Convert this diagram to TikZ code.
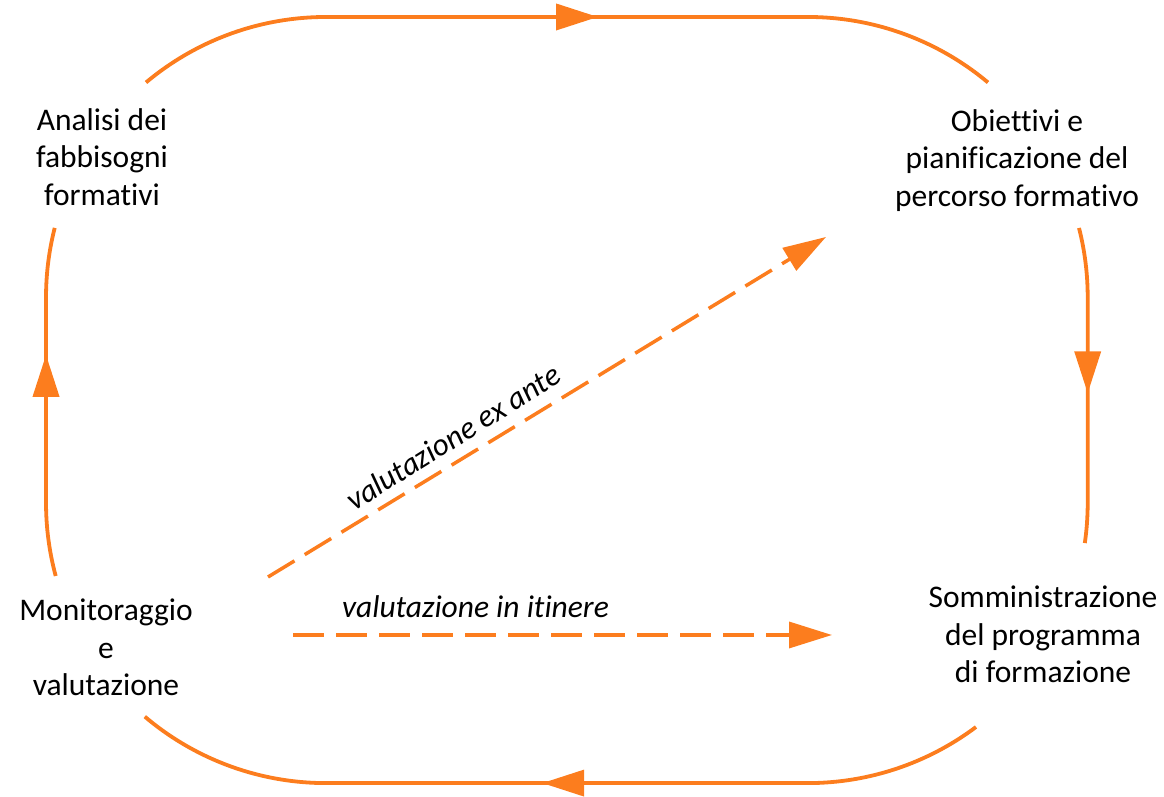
\documentclass[tikz,border=0pt]{standalone}
\usepackage{fontspec}
\setmainfont{Carlito}[Ligatures=NoCommon]
\usetikzlibrary{arrows.meta,decorations.markings}
\definecolor{cycleorange}{RGB}{252,125,30}
\tikzset{
  phase/.style={align=center, inner sep=0pt, font=\fontsize{31.5}{37.5}\selectfont},
  evallabel/.style={inner sep=0pt, font=\fontsize{31.5}{37.5}\selectfont\itshape},
  cycleline/.style={draw=cycleorange, line width=3.8pt},
  evalarrow/.style={draw=cycleorange, line width=3.5pt, dash pattern=on 31pt off 12pt,
    -{Triangle[length=43pt,width=26pt]}},
  tipat/.style={postaction={decorate}, decoration={markings,
    mark=at position #1 with {\arrow{Triangle[length=42pt,width=26pt]}}}}
}
\begin{document}
\begin{tikzpicture}[x=1pt,y=1pt]
\useasboundingbox (0,0) rectangle (1164,797);

% the four phases of the cycle
\node[phase] (analisi) at (102,640) {Analisi dei\\fabbisogni\\formativi};
\node[phase] (obiettivi) at (1017,636.5) {Obiettivi e\\pianificazione del\\percorso formativo};
\node[phase] (somm) at (1043,162.5) {Somministrazione\\del programma\\di formazione};
\node[phase] (monit) at (106,149.5) {Monitoraggio\\e\\valutazione};

% ends of the rounded cycle segments (corner radius 280)
\coordinate (an-out) at (146,714.5);
\coordinate (ob-in)  at (1079,569);
\coordinate (so-out) at (976,70);
\coordinate (mo-out) at (55.7,221);

% cycle: analisi -> obiettivi
\path[cycleline, tipat=467.5pt] (an-out) arc[start angle=130, end angle=90, radius=280]
  -- ++(482,0) arc[start angle=90, end angle=50, radius=280];
% obiettivi -> somministrazione
\path[cycleline, tipat=166pt] (ob-in) arc[start angle=14.3, end angle=0, radius=280]
  -- ++(0,-206) arc[start angle=0, end angle=-8.2, radius=280];
% somministrazione -> monitoraggio
\path[cycleline, tipat=446pt] (so-out) arc[start angle=-53.1, end angle=-90, radius=280]
  -- ++(-482,0) arc[start angle=-90, end angle=-130.3, radius=280];
% monitoraggio -> analisi
\path[cycleline, tipat=222pt] (mo-out) arc[start angle=195.1, end angle=180, radius=280]
  -- ++(0,206) arc[start angle=180, end angle=165.7, radius=280];

% evaluation arrows
\coordinate (exante-start) at (268,220);
\coordinate (exante-end) at (826,560);
\draw[evalarrow] (exante-start) -- (exante-end);
\node[evallabel, rotate=32] (exante) at (453,360) {valutazione ex ante};

\coordinate (itinere-start) at (293,162);
\coordinate (itinere-end) at (832,162);
\draw[evalarrow] (itinere-start) -- (itinere-end);
\node[evallabel] (itinere) at (475.5,190) {valutazione in itinere};
\end{tikzpicture}
\end{document}
